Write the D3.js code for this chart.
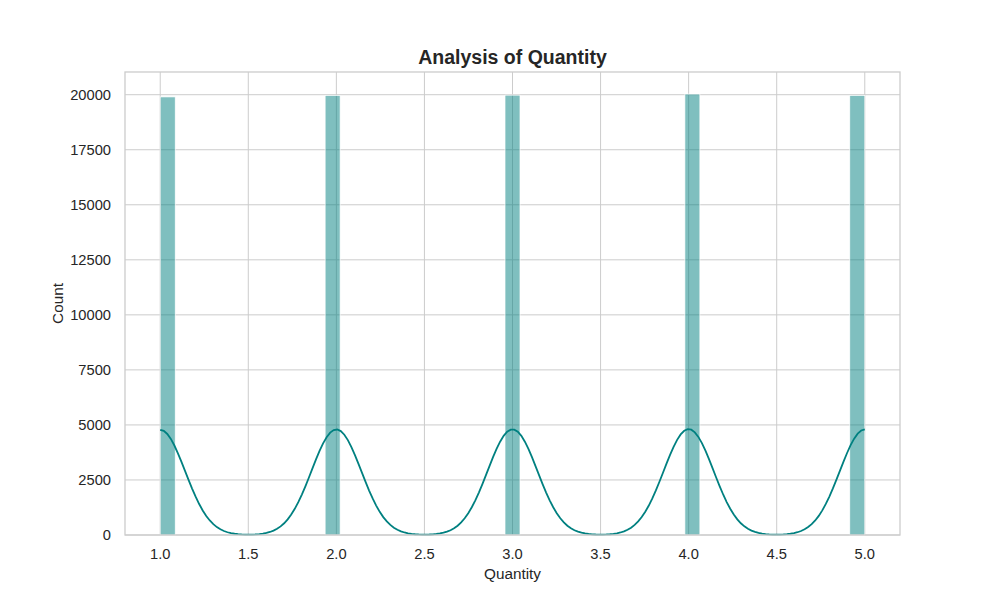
<!DOCTYPE html>
<html>
<head>
<meta charset="utf-8">
<script src="https://cdn.jsdelivr.net/npm/d3@7"></script>
<style>
  body { margin: 0; background: #fff; }
  text { font-family: "Liberation Sans", Arial, sans-serif; fill: #262626; }
</style>
</head>
<body>
<div id="chart"></div>
<script>
// data
const quantityValues = [1, 2, 3, 4, 5];
const quantityCounts = [19900, 19970, 19980, 20030, 19970];
const binCount = 47;
const xTicks = [1.0, 1.5, 2.0, 2.5, 3.0, 3.5, 4.0, 4.5, 5.0];
const yTicks = [0, 2500, 5000, 7500, 10000, 12500, 15000, 17500, 20000];

const width = 1000, height = 600;
const margin = {top: 72, right: 100, bottom: 65, left: 125};
const teal = "#008080";

const svg = d3.select("#chart").append("svg")
    .attr("width", width)
    .attr("height", height);

// histogram bins (numpy style, equal width over data range)
const lo = d3.min(quantityValues), hi = d3.max(quantityValues);
const binW = (hi - lo) / binCount;
let bins = quantityValues.map((v, i) => {
  let k = Math.min(Math.floor((v - lo) / binW + 1e-9), binCount - 1);
  return {x0: lo + k * binW, x1: lo + (k + 1) * binW, count: quantityCounts[i]};
});

// gaussian kde, scott bandwidth, scaled to counts
const n = d3.sum(quantityCounts);
const mean = d3.sum(quantityValues, (v, i) => v * quantityCounts[i]) / n;
const variance = d3.sum(quantityValues, (v, i) => quantityCounts[i] * (v - mean) ** 2) / (n - 1);
const bw = Math.sqrt(variance) * Math.pow(n, -1 / 5);
const kdeX = d3.range(200).map(i => lo + (hi - lo) * i / 199);
const kde = kdeX.map(x => {
  let dens = d3.sum(quantityValues, (v, i) =>
      quantityCounts[i] * Math.exp(-0.5 * ((x - v) / bw) ** 2)) / (n * bw * Math.sqrt(2 * Math.PI));
  return [x, dens * n * binW];
});

const pad = (hi - lo) * 0.05;
const x = d3.scaleLinear()
    .domain([lo - pad, hi + pad])
    .range([margin.left, width - margin.right]);
const yMax = d3.max(bins, d => d.count) * 1.05;
const y = d3.scaleLinear()
    .domain([0, yMax])
    .range([height - margin.bottom, margin.top]);

// grid
svg.append("g").selectAll("line").data(xTicks).join("line")
    .attr("x1", d => x(d)).attr("x2", d => x(d))
    .attr("y1", margin.top).attr("y2", height - margin.bottom)
    .attr("stroke", "#cccccc").attr("stroke-width", 1);
svg.append("g").selectAll("line").data(yTicks).join("line")
    .attr("x1", margin.left).attr("x2", width - margin.right)
    .attr("y1", d => y(d)).attr("y2", d => y(d))
    .attr("stroke", "#cccccc").attr("stroke-width", 1);

// bars
svg.append("g").selectAll("rect").data(bins).join("rect")
    .attr("x", d => x(d.x0))
    .attr("width", d => x(d.x1) - x(d.x0))
    .attr("y", d => y(d.count))
    .attr("height", d => y(0) - y(d.count))
    .attr("fill", teal).attr("fill-opacity", 0.5)
    .attr("stroke", "#ffffff").attr("stroke-width", 0.7);

// kde line
svg.append("path").datum(kde)
    .attr("d", d3.line().x(d => x(d[0])).y(d => y(d[1])))
    .attr("fill", "none")
    .attr("stroke", teal)
    .attr("stroke-width", 1.8);

// frame
svg.append("rect")
    .attr("x", margin.left).attr("y", margin.top)
    .attr("width", width - margin.left - margin.right)
    .attr("height", height - margin.top - margin.bottom)
    .attr("fill", "none").attr("stroke", "#cccccc").attr("stroke-width", 1.3);

// tick labels
svg.append("g").selectAll("text").data(xTicks).join("text")
    .attr("x", d => x(d)).attr("y", 558.5)
    .attr("text-anchor", "middle")
    .style("font-size", "14.7px")
    .text(d => d3.format(".1f")(d));
svg.append("g").selectAll("text").data(yTicks).join("text")
    .attr("x", 111).attr("y", d => y(d))
    .attr("dy", "0.35em")
    .attr("text-anchor", "end")
    .style("font-size", "14.7px")
    .text(d => d);

// labels
svg.append("text")
    .attr("x", (margin.left + width - margin.right) / 2).attr("y", 579)
    .attr("text-anchor", "middle")
    .style("font-size", "15.3px")
    .text("Quantity");
svg.append("text")
    .attr("transform", `translate(62.5,${(margin.top + height - margin.bottom) / 2}) rotate(-90)`)
    .attr("text-anchor", "middle")
    .style("font-size", "15.3px")
    .text("Count");
svg.append("text")
    .attr("x", (margin.left + width - margin.right) / 2).attr("y", 63.5)
    .attr("text-anchor", "middle")
    .style("font-size", "19.5px")
    .style("font-weight", "bold")
    .text("Analysis of Quantity");
</script>
</body>
</html>
